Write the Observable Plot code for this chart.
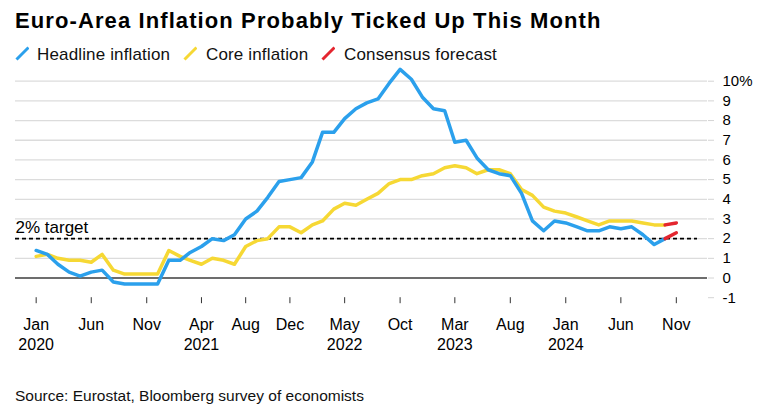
<!DOCTYPE html>
<html><head><meta charset="utf-8">
<script src="https://cdn.jsdelivr.net/npm/d3@7"></script>
<script src="https://cdn.jsdelivr.net/npm/@observablehq/plot@0.6"></script>
<style>
body{margin:0;background:#fff;font-family:"Liberation Sans",Arial,sans-serif;color:#000;}
#wrap{position:relative;width:780px;height:409px;overflow:hidden;background:#fff;}
.abs{position:absolute;white-space:nowrap;line-height:1;}
#title{left:15px;top:9.7px;font-size:22px;font-weight:bold;letter-spacing:1.1px;color:#000;}
.leg{top:46.3px;font-size:17px;color:#111;letter-spacing:0.15px;}
.sw{position:absolute;top:46px;width:14px;height:15px;}
#chart{position:absolute;left:0;top:64px;}
#source{left:15px;top:388px;font-size:15.5px;color:#111;}
</style></head><body>
<div id="wrap">
  <div id="title" class="abs">Euro-Area Inflation Probably Ticked Up This Month</div>
  <div id="legend"></div>
  <div id="chart"></div>
  <div id="source" class="abs">Source: Eurostat, Bloomberg survey of economists</div>
</div>
<script>
// ---- data ----
const startMonth = [2020, 0];           // Jan 2020
const headline = [1.4,1.2,0.7,0.3,0.1,0.3,0.4,-0.2,-0.3,-0.3,-0.3,-0.3,
                  0.9,0.9,1.3,1.6,2.0,1.9,2.2,3.0,3.4,4.1,4.9,5.0,
                  5.1,5.9,7.4,7.4,8.1,8.6,8.9,9.1,9.9,10.6,10.1,9.2,
                  8.6,8.5,6.9,7.0,6.1,5.5,5.3,5.2,4.3,2.9,2.4,2.9,
                  2.8,2.6,2.4,2.4,2.6,2.5,2.6,2.2,1.7,2.0];
const core = [1.1,1.2,1.0,0.9,0.9,0.8,1.2,0.4,0.2,0.2,0.2,0.2,
              1.4,1.1,0.9,0.7,1.0,0.9,0.7,1.6,1.9,2.0,2.6,2.6,
              2.3,2.7,2.9,3.5,3.8,3.7,4.0,4.3,4.8,5.0,5.0,5.2,
              5.3,5.6,5.7,5.6,5.3,5.5,5.5,5.3,4.5,4.2,3.6,3.4,
              3.3,3.1,2.9,2.7,2.9,2.9,2.9,2.8,2.7,2.7];
const forecastHeadline = 2.3;   // Nov 2024 consensus
const forecastCore = 2.8;       // Nov 2024 consensus
const target = 2;
const xTicks = ["2020-01","2020-06","2020-11","2021-04","2021-08","2021-12","2022-05","2022-10","2023-03","2023-08","2024-01","2024-06","2024-11"];
const xTickLabels = ["Jan\n2020","Jun","Nov","Apr\n2021","Aug","Dec","May\n2022","Oct","Mar\n2023","Aug","Jan\n2024","Jun","Nov"];
const yTicks = [-1,0,1,2,3,4,5,6,7,8,9,10];
const gridValues = [1,2,3,4,5,6,7,8,9,10];
const legendItems = ["Headline inflation","Core inflation","Consensus forecast"];

// ---- styling ----
const BLUE = "#2ba0ec", YELLOW = "#f6d834", RED = "#e4262f";
const colors = [BLUE, YELLOW, RED];

const monthDate = i => new Date(Date.UTC(startMonth[0], startMonth[1] + i, 1));
const parseYM = s => { const [y,m] = s.split("-").map(Number); return new Date(Date.UTC(y, m-1, 1)); };
const hData = headline.map((v,i) => ({date: monthDate(i), value: v}));
const cData = core.map((v,i) => ({date: monthDate(i), value: v}));
const n = headline.length;
const hFc = [{date: monthDate(n-1), value: headline[n-1]}, {date: monthDate(n), value: forecastHeadline}];
const cFc = [{date: monthDate(n-1), value: core[n-1]}, {date: monthDate(n), value: forecastCore}];
const tickDates = xTicks.map(parseYM);
const labelFor = d => xTickLabels[tickDates.findIndex(t => +t === +d)];

// legend
const legendX = [[16,37],[184,206],[322,344]];
const leg = document.getElementById("legend");
legendItems.forEach((t,i) => {
  const [sx, tx] = legendX[i];
  const sw = document.createElementNS("http://www.w3.org/2000/svg","svg");
  sw.setAttribute("class","sw"); sw.style.left = (sx-1) + "px";
  sw.setAttribute("width","15"); sw.setAttribute("height","15");
  sw.innerHTML = `<line x1="1.5" y1="13.5" x2="13.5" y2="1.5" stroke="${colors[i]}" stroke-width="3"/>`;
  leg.appendChild(sw);
  const s = document.createElement("div");
  s.className = "abs leg"; s.style.left = tx + "px"; s.textContent = t;
  leg.appendChild(s);
});

const chart = Plot.plot({
  width: 780,
  height: 310,
  marginLeft: 15,
  marginRight: 73,
  marginTop: 16.7,
  marginBottom: 76.8,
  style: {fontFamily: '"Liberation Sans", Arial, sans-serif', fontSize: "16px", color: "#000", background: "transparent", overflow: "visible"},
  x: {type: "utc", domain: [new Date(Date.UTC(2019,10,5)), new Date(Date.UTC(2025,0,26))]},
  y: {domain: [-1, 10]},
  marks: [
    Plot.ruleY(gridValues, {stroke: "#dcdcdc", strokeWidth: 1.3}),
    Plot.ruleY([0], {stroke: "#3c3c3c", strokeWidth: 1.5}),
    Plot.ruleY([target], {stroke: "#000", strokeWidth: 1.6, strokeDasharray: "4,3", insetRight: 10}),
    Plot.text([target], {y: d => d, text: () => "2% target", frameAnchor: "left", textAnchor: "start", lineAnchor: "bottom", dy: -6, fontSize: 17, fill: "#000"}),
    Plot.axisY({anchor: "right", ticks: yTicks, tickSize: 6, tickPadding: 9, stroke: "#d4d4d4", fill: "#000", fontSize: 15, tickFormat: d => d === 10 ? "10%" : String(d), label: null}),
    Plot.axisX({ticks: tickDates, tickFormat: labelFor, tickSize: 6, tickPadding: 11.4, stroke: "#333", fill: "#000", fontSize: 16, lineHeight: 1.29, label: null}),
    Plot.line(cData, {x: "date", y: "value", stroke: YELLOW, strokeWidth: 3.5}),
    Plot.line(hData, {x: "date", y: "value", stroke: BLUE, strokeWidth: 3.5}),
    Plot.line(cFc, {x: "date", y: "value", stroke: RED, strokeWidth: 3.5}),
    Plot.line(hFc, {x: "date", y: "value", stroke: RED, strokeWidth: 3.5})
  ]
});
document.getElementById("chart").appendChild(chart);
</script>
</body></html>
